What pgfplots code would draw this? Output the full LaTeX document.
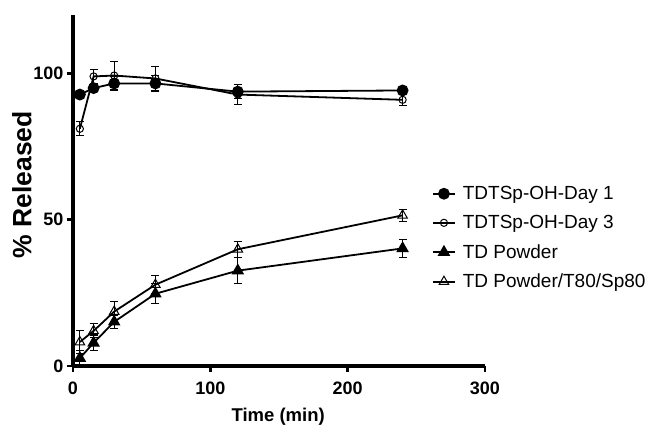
\documentclass[border=0pt]{standalone}
\usepackage{fontspec}
\setmainfont{Liberation Sans}
\usepackage{pgfplots}
\pgfplotsset{compat=1.18}

\begin{document}
\begin{tikzpicture}
\begin{axis}[
  at={(0,0)}, anchor=south west,
  scale only axis,
  width=412pt, height=351pt,
  xmin=0, xmax=300, ymin=0, ymax=120,
  axis lines=left,
  axis line style={-, line width=3.5pt},
  xtick={0,100,200,300}, ytick={0,50,100},
  tick align=outside,
  major tick length=6pt,
  tick style={line width=2.5pt, black},
  /pgf/number format/assume math mode=true,
  ticklabel style={font=\fontsize{18}{18}\selectfont\bfseries},
  xticklabel style={yshift=-6pt},
  xlabel={Time (min)},
  ylabel={\% Released},
  xlabel style={font=\fontsize{18.5}{20}\selectfont\bfseries,
    at={(axis description cs:0.498,-0.145)}, anchor=center},
  ylabel style={font=\fontsize{26.5}{28}\selectfont\bfseries,
    at={(axis description cs:-0.124,0.516)}, anchor=center},
  clip=false,
  legend style={at={(axis description cs:0.871,0.518)}, anchor=north west,
    draw=none, fill=none, font=\fontsize{19}{20}\selectfont,
    row sep=10.3pt, inner sep=0pt,
    /tikz/every odd column/.append style={column sep=5pt}},
  legend cell align=left,
  legend image code/.code={
    \draw[mark repeat=2, mark phase=2, #1] plot coordinates {(0pt,0pt)(11pt,0pt)(22pt,0pt)};
  },
  error bars/error bar style={line width=1.1pt, black},
  error bars/error mark options={rotate=90, mark size=4pt, line width=1.1pt, black},
]
\addplot[black, line width=1.8pt, mark=*, mark size=5pt, mark options={solid, fill=black},
  error bars/.cd, y dir=both, y explicit]
  coordinates {
  (5,92.8) +- (0,0.8)
  (15,95.0) +- (0,1.2)
  (30,96.6) +- (0,2.4)
  (60,96.6) +- (0,2.8)
  (120,93.8) +- (0,2.4)
  (240,94.2) +- (0,1.0)
};
\addlegendentry{TDTSp-OH-Day 1}
\addplot[black, line width=1.8pt, mark=o, mark size=3.6pt, mark options={solid, fill=white, line width=1pt},
  error bars/.cd, y dir=both, y explicit]
  coordinates {
  (5,81.1) +- (0,2.4)
  (15,99.0) +- (0,2.4)
  (30,99.3) +- (0,4.8)
  (60,98.3) +- (0,4.1)
  (120,92.8) +- (0,3.5)
  (240,91.0) +- (0,2.0)
};
\addlegendentry{TDTSp-OH-Day 3}
\addplot[black, line width=1.8pt, mark=triangle*, mark size=5.5pt, mark options={solid, fill=black},
  error bars/.cd, y dir=both, y explicit]
  coordinates {
  (5,2.7) +- (0,2.5)
  (15,7.9) +- (0,2.7)
  (30,15.1) +- (0,2.2)
  (60,24.7) +- (0,3.4)
  (120,32.6) +- (0,4.5)
  (240,40.2) +- (0,3.0)
};
\addlegendentry{TD Powder}
\addplot[black, line width=1.8pt, mark=triangle, mark size=5.5pt, mark options={solid, fill=white, line width=1pt},
  error bars/.cd, y dir=both, y explicit]
  coordinates {
  (5,8.2) +- (0,3.8)
  (15,12.0) +- (0,2.4)
  (30,18.6) +- (0,3.4)
  (60,27.8) +- (0,3.1)
  (120,39.9) +- (0,2.7)
  (240,51.5) +- (0,2.0)
};
\addlegendentry{TD Powder/T80/Sp80}
\end{axis}
\pgfresetboundingbox
\path[use as bounding box] (-73pt,-65pt) rectangle (576pt,366pt);
\end{tikzpicture}
\end{document}
